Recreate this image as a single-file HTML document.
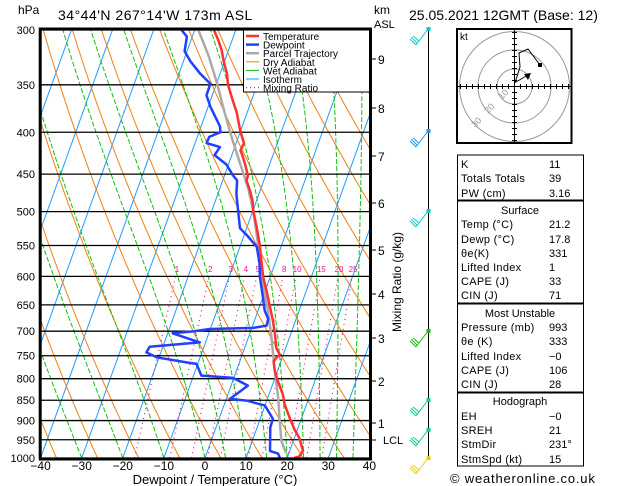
<!DOCTYPE html>
<html><head><meta charset="utf-8"><style>
body{margin:0;background:#fff;}
svg{display:block;font-family:"Liberation Sans",sans-serif;}
</style></head><body>
<svg id="c" width="629" height="486" viewBox="0 0 629 486"></svg>
<script>
const tempP=[300,308.6,317.4,328.9,339.3,350,364.9,378.6,399.9,412.4,420.9,426.9,439.1,451.7,458.1,471.2,484.7,500,521.7,549.6,573.6,601,624.3,651.3,679.8,702.9,733.6,747.4,751,761.6,783.4,805.7,836.6,860.4,893.4,923.1,945.2,979.8,995.9,1000];
const tempT=[-35.3,-33.4,-31.7,-30.0,-28.3,-27.1,-24.7,-22.5,-19.9,-18.1,-18.3,-17.4,-15.8,-14.3,-14.2,-12.5,-11.0,-9.8,-7.7,-5.3,-3.6,-1.7,0.3,2.4,4.5,6.0,7.7,9.1,8.8,8.2,9.4,11.0,13.4,14.7,17.1,19.3,21.2,23.2,22.8,21.7];
const dewP=[300,305.7,318.5,327.6,339.3,349,360.5,372.6,393.4,399.9,405.2,412.4,417,426.5,438,451.7,458.1,475.6,500,524,534,552,578.2,601,636,660.5,676.2,689.1,693.6,695.6,700.3,704.2,722.3,731.1,742.9,753.4,764.1,767.5,793.2,798.3,815.8,846.9,850.9,863,895.9,917.2,980.4,987.6,1000];
const dewT=[-43.2,-41.3,-40.6,-38.3,-34.8,-31.5,-31.4,-29.4,-25.4,-24.8,-27.1,-27.2,-23.6,-24.2,-20.5,-17.9,-16.5,-15.5,-13.5,-11.6,-9.4,-5.9,-3.8,-2.5,0.0,1.6,3.2,3.4,0.3,-10.1,-14.0,-18.8,-11.4,-23.2,-23.5,-20.6,-12.9,-10.3,-8.1,-0.2,4.1,0.9,5.1,10.0,13.1,13.2,15.2,17.4,18.2];
const parP=[300,322.9,349,377.6,410,438,467.5,500,540.5,614,660.5,712.1,776.2,843.1,900.2,953.5,986.3];
const parT=[-39.1,-34.3,-29.8,-25.6,-21.0,-17.1,-13.2,-9.8,-6.4,-1.1,2.4,5.6,9.0,12.5,14.9,17.1,19.3];
const pLevels=[300,350,400,450,500,550,600,650,700,750,800,850,900,950,1000];
const tTicks=[-40,-30,-20,-10,0,10,20,30,40];
const kmLabels=["9","8","7","6","5","4","3","2","1"];
const kmY=[59,108,156,203,250,294,338,381,423];
const mixW=[1,2,3,4,5,8,10,15,20,25];
const dryTheta=[];for(let k=0;k<30;k++)dryTheta.push(237+10*k);
const wetStart=[-30,-20,-10,0,5,10,15,20,24,28,32,36];

const NS="http://www.w3.org/2000/svg";
const svg=document.getElementById('c');
const X0=40.7,X1=369,Y0=30,Y1=458;
function py(p){return Y0+Math.log(p/300)/Math.log(1000/300)*(Y1-Y0);}
function tx(T,p){return 205+4.11*T+0.36*(Y1-py(p));}
function el(tag,attrs,parent){const e=document.createElementNS(NS,tag);for(const k in attrs)e.setAttribute(k,attrs[k]);(parent||svg).appendChild(e);return e;}
function txt(s,x,y,opt,parent){const t=el('text',Object.assign({x:x,y:y,'font-size':12,fill:'#000'},opt||{}),parent);t.textContent=s;return t;}

const defs=el('defs',{});
const cp=el('clipPath',{id:'plot'},defs);
el('rect',{x:X0,y:Y0,width:X1-X0,height:Y1-Y0},cp);

const bg=el('g',{'clip-path':'url(#plot)'});


// isotherms
for(let T=-120;T<=40;T+=10){
  const l=el('line',{x1:tx(T,1000),y1:py(1000),x2:tx(T,300),y2:py(300),stroke:'#1e9bff','stroke-width':1},bg);
  
  
}
// dry adiabats
dryTheta.forEach(th=>{
  let d='';
  for(let p=1000;p>=300;p-=10){const T=th*Math.pow(p/1000,0.286)-273.15;d+=(d?'L':'M')+tx(T,p).toFixed(1)+','+py(p).toFixed(1);}
  const e=el('path',{d:d,fill:'none',stroke:'#f08010','stroke-width':1},bg);
  
  
});
// wet adiabats
function es(Tc){return 6.112*Math.exp(17.67*Tc/(Tc+243.5));}
wetStart.forEach(t0=>{
  let T=t0+273.15,p=1000,d='M'+tx(t0,p).toFixed(1)+','+py(p).toFixed(1);
  while(p>300){
    const rs=0.622*es(T-273.15)/(p-es(T-273.15));
    const dTdp=(287*T+2.5e6*rs)/(p*(1004+2.5e6*2.5e6*rs*0.622/(287*T*T)));
    p-=5;T-=dTdp*5;
    d+='L'+tx(T-273.15,p).toFixed(1)+','+py(p).toFixed(1);
  }
  const e=el('path',{d:d,fill:'none',stroke:'#10c010','stroke-width':1,'stroke-dasharray':'5,2'},bg);
  
  
});
// mixing ratio
function tdw(w,p){const e=w*p/(622+w);const l=Math.log(e/6.112);return 243.5*l/(17.67-l);}
mixW.forEach(w=>{
  const e=el('line',{x1:tx(tdw(w,1000),1000),y1:py(1000),x2:tx(tdw(w,600),600),y2:py(600),stroke:'#e8148c','stroke-width':1.2,'stroke-dasharray':'1,4'},bg);
  
  
  const t=txt(String(w),tx(tdw(w,590),590),272,{'font-size':8,fill:'#e8148c','text-anchor':'middle'});
  
  
});
// pressure lines
pLevels.forEach(p=>{
  const l=el('line',{x1:X0,x2:X1,y1:py(p),y2:py(p),stroke:'#000','stroke-width':1.3});
  
  
  const t=txt(String(p),35,py(p)+4,{'text-anchor':'end','font-size':11});
  
  
});
// series
function series(P,T,color,w,name){
  let d='';P.forEach((p,i)=>{d+=(i?'L':'M')+tx(T[i],p).toFixed(1)+','+py(p).toFixed(1);});
  const e=el('path',{d:d,fill:'none',stroke:color,'stroke-width':w,'stroke-linejoin':'round','clip-path':'url(#plot)'});
  
  
}
series(parP,parT,'#aaaaaa',2.5,'parcel-trajectory-line');
series(dewP,dewT,'#2040ff',2.5,'dewpoint-line');
series(tempP,tempT,'#ff3030',2.5,'temperature-line');
// frame
const fr=el('rect',{x:X0-0.5,y:Y0-1,width:X1-X0+2,height:Y1-Y0+2,fill:'none',stroke:'#000','stroke-width':3});


// x ticks
tTicks.forEach(T=>{
  const t=txt(T<0?'\u2212'+(-T):String(T),tx(T,1000),470,{'text-anchor':'middle','font-size':12});
  
  
});
const xt=txt('Dewpoint / Temperature (\u00B0C)',215,484,{'text-anchor':'middle','font-size':13});


// km axis
kmLabels.forEach((s,i)=>{
  el('line',{x1:371,x2:376,y1:kmY[i],y2:kmY[i],stroke:'#000'});
  const t=txt(s,378,kmY[i]+5,{'font-size':12});
  
  
});
el('line',{x1:371,x2:376,y1:440,y2:440,stroke:'#000'});
const lcl=txt('LCL',383,444,{'font-size':11});


const km=txt('km',374,14,{'font-size':12});
const asl=txt('ASL',374,28,{'font-size':11});
const hpa=txt('hPa',18,14,{'font-size':12});
const mr=txt('Mixing Ratio (g/kg)',0,0,{'font-size':12,transform:'translate(401,332) rotate(-90)'});

const tt=txt("34\u00B044'N  267\u00B014'W  173m  ASL",58,20,{'font-size':14,'letter-spacing':'0.5'});

const dt=txt('25.05.2021  12GMT  (Base: 12)',409,20,{'font-size':14});

// legend
const lg=el('g',{});

el('rect',{x:243.5,y:30,width:126,height:62,fill:'#fff',stroke:'#000'},lg);
const legN=['Temperature','Dewpoint','Parcel Trajectory','Dry Adiabat','Wet Adiabat','Isotherm','Mixing Ratio'];
const legC=['#ff3030','#2040ff','#aaaaaa','#f08010','#10c010','#1e9bff','#e8148c'];
const legW=[2.5,2.5,2.5,1,1,1,1.2];
legN.forEach((n,i)=>{
  const y=36+i*8.6;
  const l=el('line',{x1:246,x2:259,y1:y,y2:y,stroke:legC[i],'stroke-width':legW[i],'stroke-dasharray':i==6?'1,3':'none'},lg);
  const t=txt(n,263,y+4,{'font-size':10},lg);
  
});
// wind barbs
const wg=el('g',{});
el('line',{x1:428.5,x2:428.5,y1:29,y2:458,stroke:'#000','stroke-width':1},wg);
const wbY=[29,131,211,331,400,430,458];
const wbC=['#10c8c8','#1e9bff','#10c8c8','#10c010','#10c898','#10c898','#e8d010'];
wbY.forEach((y,i)=>{
  el('rect',{x:426.5,y:y-2,width:4,height:4,fill:wbC[i]},wg);
  el('path',{d:`M428,${y} L416,${y+16} M416,${y+16} L410,${y+10} M417,${y+14} L411,${y+8} M419,${y+12} L413,${y+7}`,stroke:wbC[i],fill:'none','stroke-width':1},wg);
});
// hodograph
const hg=el('g',{});
el('rect',{x:457,y:29,width:114.5,height:114,fill:'#fff',stroke:'#000','stroke-width':2},hg);
[17.5,36.5,55].forEach(r=>el('circle',{cx:514.5,cy:86.5,r:r,fill:'none',stroke:'#999','stroke-width':1},hg));
el('line',{x1:458,x2:571,y1:86.5,y2:86.5,stroke:'#000'},hg);
el('line',{x1:514.5,x2:514.5,y1:30,y2:143,stroke:'#000'},hg);
for(let k=-9;k<=9;k++){if(!k)continue;el('line',{x1:514.5+k*6,x2:514.5+k*6,y1:84,y2:89,stroke:'#000'},hg);el('line',{y1:86.5+k*6,y2:86.5+k*6,x1:512,x2:517,stroke:'#000'},hg);}
el('polyline',{points:'515,83 520,67 519,53 528,49 540,65',fill:'none',stroke:'#000'},hg);
el('rect',{x:538,y:63,width:4,height:4,fill:'#000'},hg);
el('line',{x1:516,y1:82,x2:528,y2:75,stroke:'#000'},hg);
el('path',{d:'M531,73 L524,74 L528,80 Z',fill:'#000'},hg);
const kt=txt('kt',460,40,{'font-size':10});
[['10',502,100,17.5],['20',488,114,36.5],['30',475,128,55]].forEach(a=>{const t=txt(a[0],a[1],a[2],{'font-size':9,fill:'#999',transform:`rotate(-45 ${a[1]} ${a[2]})`},hg);});
// table
const tg=el('g',{});
[[155,200],[201,303],[304,392],[393,466]].forEach(b=>el('rect',{x:457.5,y:b[0],width:126,height:b[1]-b[0],fill:'none',stroke:'#000','stroke-width':1},tg));
const rows=[['K','11',164],['Totals Totals','39',178],['PW (cm)','3.16',193],
['Temp (\u00B0C)','21.2',224],['Dewp (\u00B0C)','17.8',239],['\u03B8e(K)','331',253],['Lifted Index','1',267],['CAPE (J)','33',281],['CIN (J)','71',295],
['Pressure (mb)','993',327],['\u03B8e (K)','333',341],['Lifted Index','\u22120',356],['CAPE (J)','106',370],['CIN (J)','28',384],
['EH','\u22120',416],['SREH','21',430],['StmDir','231\u00B0',444],['StmSpd (kt)','15',459]];
rows.forEach(r=>{
  const a=txt(r[0],461,r[2]+4,{'font-size':11,'letter-spacing':'0.3'},tg);
  const b=txt(r[1],549,r[2]+4,{'font-size':11},tg);
});
[['Surface',210],['Most Unstable',313],['Hodograph',401]].forEach(h=>{const t=txt(h[0],520,h[1]+4,{'font-size':11,'text-anchor':'middle'},tg);});
const cr=txt('\u00A9 weatheronline.co.uk',450,483,{'font-size':13,'letter-spacing':'0.8'});

</script>
</body></html>
